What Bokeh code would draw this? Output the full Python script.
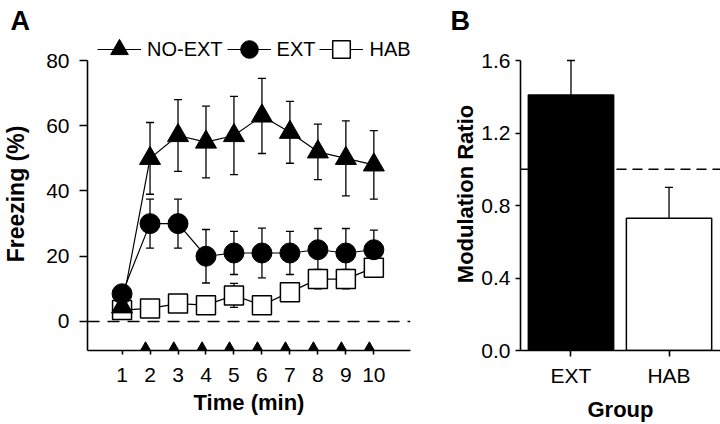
from bokeh.plotting import figure
from bokeh.models import (ColumnDataSource, Whisker, TeeHead, Span, Legend, LegendItem,
                          Title, FixedTicker, PrintfTickFormatter)
from bokeh.core.properties import value
from bokeh.layouts import row
from bokeh.embed import file_html
from bokeh.resources import INLINE

FONT = "Liberation Sans"

# ---------------- data (panel A) ----------------
time_min = [1, 2, 3, 4, 5, 6, 7, 8, 9, 10]
noext = [4.5, 50, 57, 55, 57, 63, 58, 52, 50, 48]
noext_err = [2, 11, 11, 11, 12, 11.5, 9.5, 8.5, 11.5, 10.5]
ext = [8.5, 30, 30, 20, 21, 21, 21, 22, 21, 22]
ext_err = [2, 7.5, 7.5, 8.2, 6.6, 7.6, 6.6, 6.5, 7.5, 6]
hab = [3.5, 4, 5.5, 5, 8, 5, 9, 13, 13, 16.5]
hab_err = [1, 2, 2, 2, 3.7, 2, 2.5, 3, 3, 2.5]
cs_times = [1.84, 2.85, 3.86, 4.84, 5.84, 6.84, 7.84, 8.84, 9.84]
y_ticks_a = [0, 20, 40, 60, 80]

# ---------------- data (panel B) ----------------
groups = ["EXT", "HAB"]
ratio = [1.41, 0.73]
ratio_err = [0.19, 0.17]
y_ticks_b = [0.0, 0.4, 0.8, 1.2, 1.6]

Y0 = -8.89
TOP = 37      # shared frame top (row aligns frames)
BOTTOM = 74   # shared bottom border


def style_axis(ax, tick_out, label_standoff, title, title_size, title_standoff):
    ax.axis_line_color = "black"
    ax.axis_line_width = 1.6
    ax.major_tick_line_color = "black"
    ax.major_tick_line_width = 1.6
    ax.major_tick_in = 0
    ax.major_tick_out = tick_out
    ax.minor_tick_line_color = None
    ax.major_label_text_font = FONT
    ax.major_label_text_font_size = "21px"
    ax.major_label_text_color = "black"
    ax.major_label_standoff = label_standoff
    ax.axis_label = title
    ax.axis_label_text_font = FONT
    ax.axis_label_text_font_style = "bold"
    ax.axis_label_text_font_size = title_size
    ax.axis_label_text_color = "black"
    ax.axis_label_standoff = title_standoff


def panel_title(p, text, offset, standoff):
    p.add_layout(Title(text=text, align="left", offset=offset, standoff=standoff,
                       text_font=FONT, text_font_style="bold", text_font_size="27px",
                       text_color="black"), "above")


# ================= Panel A =================
pA = figure(width=450, height=424, x_range=(-0.235, 11.31), y_range=(Y0, 87.05),
            output_backend="svg", toolbar_location=None,
            min_border_left=83, min_border_right=40, min_border_top=TOP, min_border_bottom=BOTTOM)
pA.grid.visible = False
pA.outline_line_color = None
pA.background_fill_color = "white"

style_axis(pA.xaxis[0], 4, 13, "Time (min)", "22px", 5)
style_axis(pA.yaxis[0], 8, 10, "Freezing (%)", "23px", 14)
pA.xaxis.ticker = FixedTicker(ticks=time_min)
pA.yaxis.ticker = FixedTicker(ticks=y_ticks_a)
pA.yaxis.bounds = (Y0, 80)

zero = Span(location=0, dimension="width", line_color="black", line_width=1.3,
            line_dash="12 8", level="underlay")
pA.add_layout(zero)

src = ColumnDataSource(dict(
    t=time_min,
    noext=noext, noext_lo=[v - e for v, e in zip(noext, noext_err)], noext_hi=[v + e for v, e in zip(noext, noext_err)],
    ext=ext, ext_lo=[v - e for v, e in zip(ext, ext_err)], ext_hi=[v + e for v, e in zip(ext, ext_err)],
    hab=hab, hab_lo=[v - e for v, e in zip(hab, hab_err)], hab_hi=[v + e for v, e in zip(hab, hab_err)],
))

for key in ["hab", "ext", "noext"]:
    w = Whisker(source=src, base="t", lower=key + "_lo", upper=key + "_hi",
                line_color="black", line_width=1.3, level="underlay",
                upper_head=TeeHead(size=8, line_color="black", line_width=1.3),
                lower_head=TeeHead(size=8, line_color="black", line_width=1.3))
    pA.add_layout(w)

l_hab = pA.line("t", "hab", source=src, line_color="black", line_width=1.2)
l_ext = pA.line("t", "ext", source=src, line_color="black", line_width=1.2)
l_noext = pA.line("t", "noext", source=src, line_color="black", line_width=1.2)

s_hab = pA.scatter("t", "hab", source=src, marker="square", size=19,
                   fill_color="white", line_color="black", line_width=1.5)
s_ext = pA.scatter("t", "ext", source=src, marker="circle", size=20,
                   fill_color="black", line_color="black", line_width=1)
s_noext = pA.scatter("t", "noext", source=src, marker="triangle", size=21,
                     fill_color="black", line_color="black", line_width=1)

# stimulus markers sitting on the time axis
cs_level = Y0 + 0.9
pA.scatter(cs_times, [cs_level] * len(cs_times), marker="triangle", size=10,
           fill_color="black", line_color="black")

legend = Legend(items=[
    LegendItem(label=value("NO-EXT"), renderers=[l_noext, s_noext]),
    LegendItem(label=value("EXT"), renderers=[l_ext, s_ext]),
    LegendItem(label=value("HAB"), renderers=[l_hab, s_hab]),
], orientation="horizontal", location=(10, 279), glyph_width=44, glyph_height=44,
    label_standoff=6, spacing=4, padding=0, margin=0,
    border_line_color=None, background_fill_alpha=0,
    label_text_font=FONT, label_text_font_size="20px", label_text_color="black")
pA.add_layout(legend)

panel_title(pA, "A", -77, 4)

# ================= Panel B =================
xpos = [i + 1 for i in range(len(groups))]
pB = figure(width=270, height=424, x_range=(0.485, 2.525), y_range=(0, 1.727),
            output_backend="svg", toolbar_location=None,
            min_border_left=68, min_border_right=0, min_border_top=TOP, min_border_bottom=BOTTOM)
pB.grid.visible = False
pB.outline_line_color = None
pB.background_fill_color = "white"

style_axis(pB.xaxis[0], 6, 7, "Group", "22px", 7)
style_axis(pB.yaxis[0], 5, 5, "Modulation Ratio", "22px", 0)
pB.xaxis.ticker = FixedTicker(ticks=xpos)
pB.xaxis.major_label_overrides = {x: g for x, g in zip(xpos, groups)}
pB.yaxis.ticker = FixedTicker(ticks=y_ticks_b)
pB.yaxis.formatter = PrintfTickFormatter(format="%.1f")
pB.yaxis.bounds = (0, 1.6)

one = Span(location=1.0, dimension="width", line_color="black", line_width=1.3,
           line_dash="10 6", level="underlay")
pB.add_layout(one)

bsrc = ColumnDataSource(dict(x=xpos, top=ratio, hi=[v + e for v, e in zip(ratio, ratio_err)],
                             fill=["black", "white"]))
pB.add_layout(Whisker(source=bsrc, base="x", lower="top", upper="hi",
                      line_color="black", line_width=1.3, level="underlay",
                      upper_head=TeeHead(size=8, line_color="black", line_width=1.3),
                      lower_head=None))
pB.vbar(x="x", top="top", bottom=0, width=0.87, source=bsrc, fill_color="fill",
        line_color="black", line_width=1.5)

panel_title(pB, "B", -70, 4)

layout = row(pA, pB)
open("out.html", "w").write(file_html(layout, INLINE))
